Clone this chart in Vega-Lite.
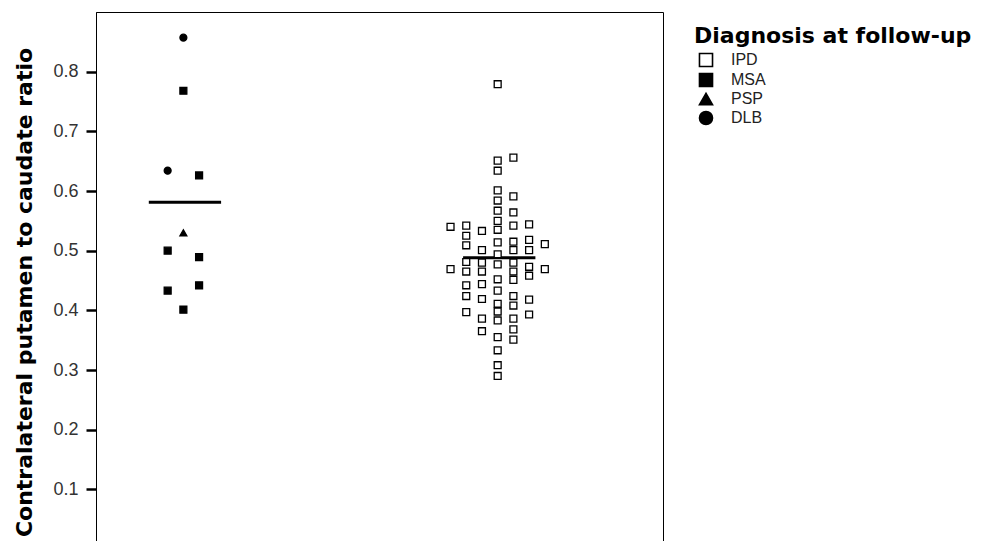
{
  "$schema": "https://vega.github.io/schema/vega-lite/v6.json",
  "autosize": {"type": "none"},
  "padding": {"left": 96, "top": 12, "right": 339, "bottom": 0},
  "width": 567,
  "height": 537,
  "background": "white",
  "config": {
    "view": {"stroke": "black", "strokeWidth": 1},
    "axis": {"grid": false}
  },
  "datasets": {
    "points": [
      {"diagnosis": "DLB", "x": 1.00, "ratio": 0.857},
      {"diagnosis": "MSA", "x": 1.00, "ratio": 0.768},
      {"diagnosis": "DLB", "x": 0.95, "ratio": 0.634},
      {"diagnosis": "MSA", "x": 1.05, "ratio": 0.626},
      {"diagnosis": "PSP", "x": 1.00, "ratio": 0.530},
      {"diagnosis": "MSA", "x": 0.95, "ratio": 0.500},
      {"diagnosis": "MSA", "x": 1.05, "ratio": 0.489},
      {"diagnosis": "MSA", "x": 0.95, "ratio": 0.433},
      {"diagnosis": "MSA", "x": 1.05, "ratio": 0.442},
      {"diagnosis": "MSA", "x": 1.00, "ratio": 0.401},
      {"diagnosis": "IPD", "x": 1.85, "ratio": 0.540},
      {"diagnosis": "IPD", "x": 1.85, "ratio": 0.469},
      {"diagnosis": "IPD", "x": 1.90, "ratio": 0.542},
      {"diagnosis": "IPD", "x": 1.90, "ratio": 0.525},
      {"diagnosis": "IPD", "x": 1.90, "ratio": 0.509},
      {"diagnosis": "IPD", "x": 1.90, "ratio": 0.481},
      {"diagnosis": "IPD", "x": 1.90, "ratio": 0.465},
      {"diagnosis": "IPD", "x": 1.90, "ratio": 0.442},
      {"diagnosis": "IPD", "x": 1.90, "ratio": 0.424},
      {"diagnosis": "IPD", "x": 1.90, "ratio": 0.397},
      {"diagnosis": "IPD", "x": 1.95, "ratio": 0.533},
      {"diagnosis": "IPD", "x": 1.95, "ratio": 0.501},
      {"diagnosis": "IPD", "x": 1.95, "ratio": 0.480},
      {"diagnosis": "IPD", "x": 1.95, "ratio": 0.465},
      {"diagnosis": "IPD", "x": 1.95, "ratio": 0.444},
      {"diagnosis": "IPD", "x": 1.95, "ratio": 0.419},
      {"diagnosis": "IPD", "x": 1.95, "ratio": 0.386},
      {"diagnosis": "IPD", "x": 1.95, "ratio": 0.365},
      {"diagnosis": "IPD", "x": 2.00, "ratio": 0.779},
      {"diagnosis": "IPD", "x": 2.00, "ratio": 0.651},
      {"diagnosis": "IPD", "x": 2.00, "ratio": 0.634},
      {"diagnosis": "IPD", "x": 2.00, "ratio": 0.601},
      {"diagnosis": "IPD", "x": 2.00, "ratio": 0.584},
      {"diagnosis": "IPD", "x": 2.00, "ratio": 0.567},
      {"diagnosis": "IPD", "x": 2.00, "ratio": 0.550},
      {"diagnosis": "IPD", "x": 2.00, "ratio": 0.535},
      {"diagnosis": "IPD", "x": 2.00, "ratio": 0.514},
      {"diagnosis": "IPD", "x": 2.00, "ratio": 0.494},
      {"diagnosis": "IPD", "x": 2.00, "ratio": 0.477},
      {"diagnosis": "IPD", "x": 2.00, "ratio": 0.452},
      {"diagnosis": "IPD", "x": 2.00, "ratio": 0.433},
      {"diagnosis": "IPD", "x": 2.00, "ratio": 0.411},
      {"diagnosis": "IPD", "x": 2.00, "ratio": 0.398},
      {"diagnosis": "IPD", "x": 2.00, "ratio": 0.383},
      {"diagnosis": "IPD", "x": 2.00, "ratio": 0.355},
      {"diagnosis": "IPD", "x": 2.00, "ratio": 0.333},
      {"diagnosis": "IPD", "x": 2.00, "ratio": 0.308},
      {"diagnosis": "IPD", "x": 2.00, "ratio": 0.290},
      {"diagnosis": "IPD", "x": 2.05, "ratio": 0.656},
      {"diagnosis": "IPD", "x": 2.05, "ratio": 0.591},
      {"diagnosis": "IPD", "x": 2.05, "ratio": 0.564},
      {"diagnosis": "IPD", "x": 2.05, "ratio": 0.542},
      {"diagnosis": "IPD", "x": 2.05, "ratio": 0.515},
      {"diagnosis": "IPD", "x": 2.05, "ratio": 0.501},
      {"diagnosis": "IPD", "x": 2.05, "ratio": 0.480},
      {"diagnosis": "IPD", "x": 2.05, "ratio": 0.465},
      {"diagnosis": "IPD", "x": 2.05, "ratio": 0.451},
      {"diagnosis": "IPD", "x": 2.05, "ratio": 0.424},
      {"diagnosis": "IPD", "x": 2.05, "ratio": 0.408},
      {"diagnosis": "IPD", "x": 2.05, "ratio": 0.386},
      {"diagnosis": "IPD", "x": 2.05, "ratio": 0.368},
      {"diagnosis": "IPD", "x": 2.05, "ratio": 0.351},
      {"diagnosis": "IPD", "x": 2.10, "ratio": 0.544},
      {"diagnosis": "IPD", "x": 2.10, "ratio": 0.518},
      {"diagnosis": "IPD", "x": 2.10, "ratio": 0.501},
      {"diagnosis": "IPD", "x": 2.10, "ratio": 0.473},
      {"diagnosis": "IPD", "x": 2.10, "ratio": 0.458},
      {"diagnosis": "IPD", "x": 2.10, "ratio": 0.418},
      {"diagnosis": "IPD", "x": 2.10, "ratio": 0.393},
      {"diagnosis": "IPD", "x": 2.15, "ratio": 0.511},
      {"diagnosis": "IPD", "x": 2.15, "ratio": 0.469}
    ],
    "lines": [
      {"group": "left", "x": 0.89, "x2": 1.12, "ratio": 0.581},
      {"group": "right", "x": 1.89, "x2": 2.12, "ratio": 0.488}
    ]
  },
  "layer": [
    {
      "data": {"name": "lines"},
      "mark": {"type": "rule", "color": "black", "strokeWidth": 3},
      "encoding": {
        "x": {"field": "x", "type": "quantitative", "scale": {"domain": [0.722, 2.526], "nice": false, "zero": false}, "axis": null},
        "x2": {"field": "x2"},
        "y": {"field": "ratio", "type": "quantitative"}
      }
    },
    {
      "data": {"name": "points"},
      "mark": {"type": "point", "filled": true, "strokeWidth": 1.3, "opacity": 1, "size": 48},
      "encoding": {
        "x": {"field": "x", "type": "quantitative", "scale": {"domain": [0.722, 2.526], "nice": false, "zero": false}, "axis": null},
        "y": {
          "field": "ratio", "type": "quantitative",
          "scale": {"domain": [0, 0.9], "nice": false, "zero": true},
          "axis": {
            "title": "Contralateral putamen to caudate ratio",
            "titleFont": "DejaVu Sans", "titleFontWeight": "bold", "titleFontSize": 22, "titleColor": "black",
            "titleAngle": 270, "titleAlign": "center", "titleBaseline": "middle",
            "titleX": -72, "titleY": 280,
            "values": [0.1, 0.2, 0.3, 0.4, 0.5, 0.6, 0.7, 0.8],
            "format": ".1f",
            "labelFont": "Liberation Sans", "labelFontSize": 18, "labelColor": "#333",
            "labelPadding": 8,
            "domainColor": "black", "domainWidth": 1,
            "tickColor": "black", "tickSize": 10, "tickWidth": 2.5
          }
        },
        "shape": {
          "field": "diagnosis", "type": "nominal",
          "scale": {"domain": ["IPD", "MSA", "PSP", "DLB"], "range": ["square", "square", "triangle-up", "circle"]},
          "legend": {
            "title": "Diagnosis at follow-up",
            "orient": "none", "legendX": 598, "legendY": 14,
            "padding": 0,
            "titleFont": "DejaVu Sans", "titleFontWeight": "bold", "titleFontSize": 22, "titleColor": "black",
            "titleLimit": 400,
            "titlePadding": 4,
            "labelFont": "Liberation Sans", "labelFontSize": 16, "labelColor": "#222",
            "labelOffset": 17,
            "symbolSize": 170, "symbolStrokeWidth": 1.6,
            "rowPadding": 0, "symbolOffset": 4
          }
        },
        "fill": {
          "field": "diagnosis", "type": "nominal",
          "scale": {"domain": ["IPD", "MSA", "PSP", "DLB"], "range": ["white", "black", "black", "black"]}
        },
        "stroke": {
          "field": "diagnosis", "type": "nominal",
          "scale": {"domain": ["IPD", "MSA", "PSP", "DLB"], "range": ["black", "black", "black", "black"]}
        }
      }
    }
  ]
}
